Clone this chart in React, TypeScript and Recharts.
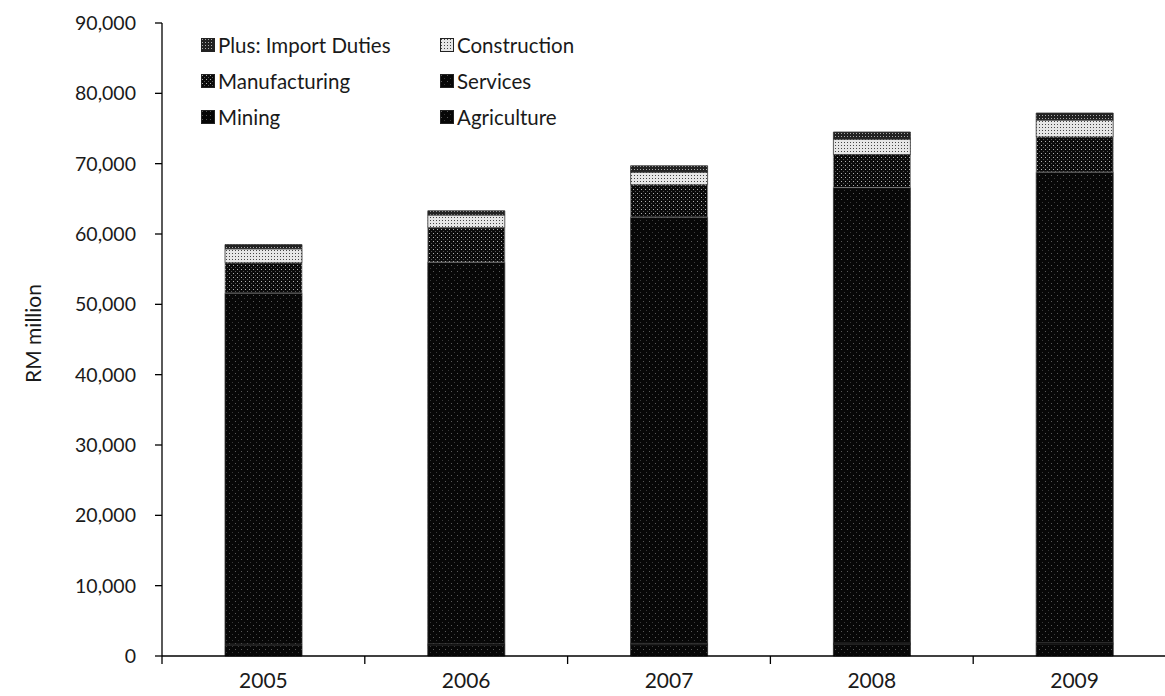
import React from 'react';
import { BarChart, Bar, XAxis, YAxis, Legend } from 'recharts';

const years = ['2005', '2006', '2007', '2008', '2009'];
const agriculture = [1500, 1550, 1600, 1650, 1700];
const mining = [200, 200, 200, 200, 200];
const services = [49900, 54250, 60600, 64750, 66900];
const manufacturing = [4300, 4900, 4600, 4700, 5000];
const construction = [2000, 1800, 1800, 2200, 2400];
const importDuties = [600, 600, 900, 1000, 1000];
const yTicks = [0, 10000, 20000, 30000, 40000, 50000, 60000, 70000, 80000, 90000];

const data = years.map((y, i) => ({
  year: y,
  agriculture: agriculture[i],
  mining: mining[i],
  services: services[i],
  manufacturing: manufacturing[i],
  construction: construction[i],
  importDuties: importDuties[i],
}));

const legendItems = [
  { name: 'Plus: Import Duties', fill: 'url(#pImport)' },
  { name: 'Construction', fill: 'url(#pConstr)' },
  { name: 'Manufacturing', fill: 'url(#pManuf)' },
  { name: 'Services', fill: 'url(#pServ)' },
  { name: 'Mining', fill: 'url(#pMining)' },
  { name: 'Agriculture', fill: 'url(#pAgri)' },
];

const FONT = 'Lato, "DejaVu Sans", sans-serif';

const renderLegend = () => (
  <div
    style={{
      display: 'grid',
      gridTemplateColumns: '239px 200px',
      gridAutoRows: '36px',
      fontFamily: FONT,
      fontSize: 20.5,
      color: '#1a1a1a',
    }}
  >
    {legendItems.map((it) => (
      <div key={it.name} style={{ display: 'flex', alignItems: 'center', height: 36 }}>
        <svg width={15} height={14} style={{ marginRight: 2 }}>
          <rect x={0.5} y={0.5} width={13} height={13} fill={it.fill} stroke="#222" strokeWidth={1} />
        </svg>
        <span>{it.name}</span>
      </div>
    ))}
  </div>
);

const XTick = (props: any) => {
  const { x, y, payload } = props;
  const off = payload && typeof payload.offset === 'number' ? payload.offset : 0;
  return (
    <g>
      <line x1={x - off} x2={x - off} y1={y} y2={y + 8} stroke="#000" strokeWidth={1.3} />
      <text x={x} y={y + 32} textAnchor="middle" fontFamily={FONT} fontSize={21} fill="#1a1a1a">
        {payload.value}
      </text>
    </g>
  );
};

const YLabel = (props: any) => {
  const vb = props.viewBox || { x: 0, y: 0, width: 0, height: 0 };
  const cx = vb.x + 32;
  const cy = vb.y + vb.height / 2 - 6;
  return (
    <text
      x={cx}
      y={cy}
      transform={`rotate(-90, ${cx}, ${cy})`}
      textAnchor="middle"
      dominantBaseline="central"
      fontFamily={FONT}
      fontSize={21}
      fill="#1a1a1a"
    >
      RM million
    </text>
  );
};

export default function App() {
  return (
    <div
      style={{
        position: 'fixed',
        left: 0,
        top: 0,
        width: 1165,
        height: 696,
        overflow: 'hidden',
        background: '#fff',
      }}
    >
      <BarChart
        width={1198}
        height={696}
        data={data}
        margin={{ top: 23, right: 22, left: 0, bottom: 0 }}
        barCategoryGap={0}
      >
        <defs>
          <pattern id="pServ" width="6" height="6" patternUnits="userSpaceOnUse">
            <rect width="6" height="6" fill="#070707" />
            <rect x="1" y="1" width="1" height="1" fill="#5a5a5a" />
            <rect x="4" y="4" width="1" height="1" fill="#3a3a3a" />
          </pattern>
          <pattern id="pAgri" width="6" height="6" patternUnits="userSpaceOnUse">
            <rect width="6" height="6" fill="#070707" />
            <rect x="1" y="1" width="1" height="1" fill="#5a5a5a" />
            <rect x="4" y="4" width="1" height="1" fill="#3a3a3a" />
          </pattern>
          <pattern id="pMining" width="4" height="4" patternUnits="userSpaceOnUse">
            <rect width="4" height="4" fill="#050505" />
            <rect x="1" y="1" width="1" height="1" fill="#555" />
          </pattern>
          <pattern id="pManuf" width="4" height="4" patternUnits="userSpaceOnUse">
            <rect width="4" height="4" fill="#0a0a0a" />
            <rect x="1" y="1" width="1" height="1" fill="#b0b0b0" />
            <rect x="3" y="3" width="1" height="1" fill="#555" />
          </pattern>
          <pattern id="pConstr" width="3" height="3" patternUnits="userSpaceOnUse">
            <rect width="3" height="3" fill="#e6e6e6" />
            <rect x="1" y="1" width="1" height="1" fill="#444" />
          </pattern>
          <pattern id="pImport" width="3" height="3" patternUnits="userSpaceOnUse">
            <rect width="3" height="3" fill="#222" />
            <rect x="1" y="1" width="1" height="1" fill="#aaa" />
          </pattern>
        </defs>
        <XAxis
          dataKey="year"
          height={40}
          axisLine={{ stroke: '#000', strokeWidth: 1.3 }}
          tickLine={false}
          tickSize={0}
          tickMargin={0}
          tick={<XTick />}
          interval={0}
        />
        <YAxis
          width={162}
          domain={[0, 90000]}
          ticks={yTicks}
          interval={0}
          axisLine={{ stroke: '#000', strokeWidth: 1.3 }}
          tickLine={{ stroke: '#000', strokeWidth: 1.3 }}
          tickSize={7}
          tickMargin={19}
          tickFormatter={(v: number) => v.toLocaleString('en-US')}
          tick={{ fontFamily: FONT, fontSize: 19.5, fill: '#1a1a1a' }}
          label={<YLabel />}
        />
        <Legend
          layout="vertical"
          align="center"
          verticalAlign="middle"
          content={renderLegend}
          wrapperStyle={{ left: 201, top: 27, width: 480, right: 'auto', bottom: 'auto' }}
        />
        <Bar dataKey="agriculture" stackId="a" barSize={77} fill="url(#pAgri)" stroke="#222" strokeWidth={0.8} isAnimationActive={false} />
        <Bar dataKey="mining" stackId="a" barSize={77} fill="url(#pMining)" stroke="#222" strokeWidth={0.8} isAnimationActive={false} />
        <Bar dataKey="services" stackId="a" barSize={77} fill="url(#pServ)" stroke="#333" strokeWidth={0.8} isAnimationActive={false} />
        <Bar dataKey="manufacturing" stackId="a" barSize={77} fill="url(#pManuf)" stroke="#888" strokeWidth={0.8} isAnimationActive={false} />
        <Bar dataKey="construction" stackId="a" barSize={77} fill="url(#pConstr)" stroke="#333" strokeWidth={0.8} isAnimationActive={false} />
        <Bar dataKey="importDuties" stackId="a" barSize={77} fill="url(#pImport)" stroke="#333" strokeWidth={0.8} isAnimationActive={false} />
      </BarChart>
    </div>
  );
}
